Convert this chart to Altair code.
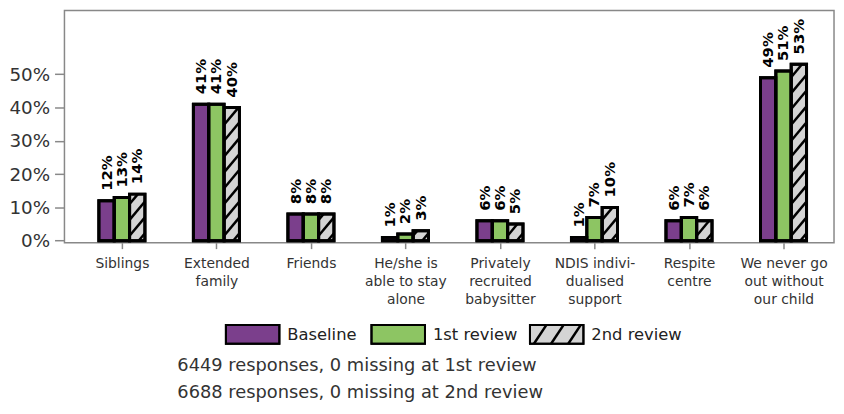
import json
import math
import altair as alt
import pandas as pd

# ---------------- data ----------------
categories = [
    "Siblings",
    "Extended|family",
    "Friends",
    "He/she is|able to stay|alone",
    "Privately|recruited|babysitter",
    "NDIS indivi-|dualised|support",
    "Respite|centre",
    "We never go|out without|our child",
]
series = ["Baseline", "1st review", "2nd review"]
baseline = [12, 41, 8, 1, 6, 1, 6, 49]
review1 = [13, 41, 8, 2, 6, 7, 7, 51]
review2 = [14, 40, 8, 3, 5, 10, 6, 53]
notes = ["6449 responses, 0 missing at 1st review", "6688 responses, 0 missing at 2nd review"]
y_ticks = [0, 10, 20, 30, 40, 50]

# ---------------- style / layout ----------------
colors = ["#7B3F8C", "#8DC563", "#D4D4D4"]
FONT = "DejaVu Sans"
VX0, VY0 = 65.0, 8.5          # page px of plot-area top-left
W, H = 777, 234.5             # plot area size
S_X = 95.43                   # px per category
C0 = 123.0                    # page px of first category centre
S_Y = 3.36                    # px per percent
YMAX = (241.0 - VY0) / S_Y
YMIN = YMAX - H / S_Y
XD0 = -(C0 - VX0) / S_X
XD1 = XD0 + W / S_X
BAR_W = 15.5 / S_X


def to_dx(px):
    return XD0 + (px - VX0) / S_X


def to_dy(py):
    return YMAX - (py - VY0) / S_Y


def to_px(x):
    return VX0 + (x - XD0) * S_X


def to_py(y):
    return VY0 + (YMAX - y) * S_Y


def hatch(xl, xr, ybot, ytop, spacing=16.0, slope=1.2, c0=5.0):
    w, h = xr - xl, ybot - ytop
    segs = []
    c = c0 - spacing * math.ceil((c0 + slope * w) / spacing)
    while c < h:
        u0 = max(0.0, -c / slope)
        u1 = min(w, (h - c) / slope)
        if u1 - u0 > 0.4:
            segs.append((xl + u0, ybot - (slope * u0 + c), xl + u1, ybot - (slope * u1 + c)))
        c += spacing
    return segs


# bars
rows = []
for i in range(len(categories)):
    for j, (s, vals) in enumerate(zip(series, [baseline, review1, review2])):
        c = i + (j - 1) * BAR_W
        rows.append(dict(series=s, x=c - BAR_W / 2, x2=c + BAR_W / 2, y=vals[i], y2=0,
                         xc=c, label=f"{vals[i]}%"))
bars_df = pd.DataFrame(rows)

# hatch lines on 2nd review bars
hrows = []
for r in rows:
    if r["series"] != series[2]:
        continue
    for (a, b, c, d) in hatch(to_px(r["x"]), to_px(r["x2"]), to_py(0), to_py(r["y"])):
        hrows.append(dict(x=to_dx(a), y=to_dy(b), x2=to_dx(c), y2=to_dy(d)))
hatch_df = pd.DataFrame(hrows)

# legend
leg_y0, leg_y1 = 326.0, 345.0
sw_x = [228.0, 375.0, 535.0]
txt_x = [290.0, 437.0, 597.0]
SW_W = 54.0
lrows, ltext = [], []
for s, sx, tx in zip(series, sw_x, txt_x):
    lrows.append(dict(series=s, x=to_dx(sx), x2=to_dx(sx + SW_W), y=to_dy(leg_y0), y2=to_dy(leg_y1)))
    ltext.append(dict(x=to_dx(tx), y=to_dy((leg_y0 + leg_y1) / 2 + 0.5), label=s))
lhrows = []
for (a, b, c, d) in hatch(sw_x[2], sw_x[2] + SW_W, leg_y1, leg_y0, spacing=26.0, slope=1.5, c0=-6.0):
    lhrows.append(dict(x=to_dx(a), y=to_dy(b), x2=to_dx(c), y2=to_dy(d)))
leg_hatch_df = pd.DataFrame(lhrows)
leg_df = pd.DataFrame(lrows)
ltext_df = pd.DataFrame(ltext)

notes_df = pd.DataFrame([dict(x=to_dx(179.0), y=to_dy(368.0), label=notes[0]),
                         dict(x=to_dx(179.0), y=to_dy(394.5), label=notes[1])])

# ---------------- chart ----------------
xscale = alt.Scale(domain=[XD0, XD1], nice=False, zero=False)
yscale = alt.Scale(domain=[YMIN, YMAX], nice=False, zero=False)
cscale = alt.Scale(domain=series, range=colors)

label_expr = "split(" + json.dumps(categories) + "[round(datum.value)], '|')"

x_axis = alt.Axis(values=list(range(len(categories))), labelExpr=label_expr, grid=False,
                  domain=False, tickSize=6, tickColor="#888", tickWidth=1.5,
                  labelFont=FONT, labelFontSize=14, labelColor="#333",
                  labelLineHeight=18.3, labelPadding=8, labelOverlap=False,
                  labelBound=False, labelFlush=False, labelBaseline="top")
y_axis = alt.Axis(values=y_ticks, labelExpr="datum.value + '%'", grid=False, domain=False,
                  tickSize=10, tickColor="#888", tickWidth=1.5, labelFont=FONT,
                  labelFontSize=18.5, labelColor="#333", labelPadding=5)

bars = alt.Chart(bars_df).mark_rect(stroke="black", strokeWidth=3).encode(
    x=alt.X("x:Q", scale=xscale, axis=x_axis, title=None),
    x2="x2:Q",
    y=alt.Y("y:Q", scale=yscale, axis=y_axis, title=None),
    y2="y2:Q",
    color=alt.Color("series:N", scale=cscale, legend=None),
)

hatch_layer = alt.Chart(hatch_df).mark_rule(color="black", strokeWidth=2.5).encode(
    x=alt.X("x:Q", title=None), x2="x2:Q", y=alt.Y("y:Q", title=None), y2="y2:Q")

outline = alt.Chart(bars_df).mark_rect(fill="transparent", stroke="black", strokeWidth=3).encode(
    x=alt.X("x:Q", title=None), x2="x2:Q", y=alt.Y("y:Q", title=None), y2="y2:Q")

value_labels = alt.Chart(bars_df).mark_text(
    angle=270, align="left", baseline="middle", dx=10, font=FONT,
    fontWeight="bold", fontSize=15, color="black").encode(
    x=alt.X("xc:Q", title=None), y=alt.Y("y:Q", title=None), text="label:N")

legend_rects = alt.Chart(leg_df).mark_rect(stroke="black", strokeWidth=2).encode(
    x=alt.X("x:Q", title=None), x2="x2:Q", y=alt.Y("y:Q", title=None), y2="y2:Q",
    color=alt.Color("series:N", scale=cscale, legend=None))

legend_hatch = alt.Chart(leg_hatch_df).mark_rule(color="black", strokeWidth=2.5).encode(
    x=alt.X("x:Q", title=None), x2="x2:Q", y=alt.Y("y:Q", title=None), y2="y2:Q")

legend_outline = alt.Chart(leg_df).mark_rect(fill="transparent", stroke="black", strokeWidth=2).encode(
    x=alt.X("x:Q", title=None), x2="x2:Q", y=alt.Y("y:Q", title=None), y2="y2:Q")

legend_text = alt.Chart(ltext_df).mark_text(
    align="left", baseline="middle", font=FONT, fontSize=16.5, color="#222").encode(
    x=alt.X("x:Q", title=None), y=alt.Y("y:Q", title=None), text="label:N")

notes_text = alt.Chart(notes_df).mark_text(
    align="left", baseline="middle", font=FONT, fontSize=18, color="#333").encode(
    x=alt.X("x:Q", title=None), y=alt.Y("y:Q", title=None), text="label:N")

chart = alt.layer(
    bars, hatch_layer, outline, value_labels,
    legend_rects, legend_hatch, legend_outline,
    legend_text, notes_text,
).properties(
    width=W, height=H,
    autosize=alt.AutoSizeParams(type="none"),
    padding={"left": VX0 - 8, "top": VY0 - 8, "right": 2, "bottom": 170},
    background="white",
).configure_view(stroke="#888", strokeWidth=1.5)

chart.save("out.html", embed_options={"renderer": "svg", "actions": False})
